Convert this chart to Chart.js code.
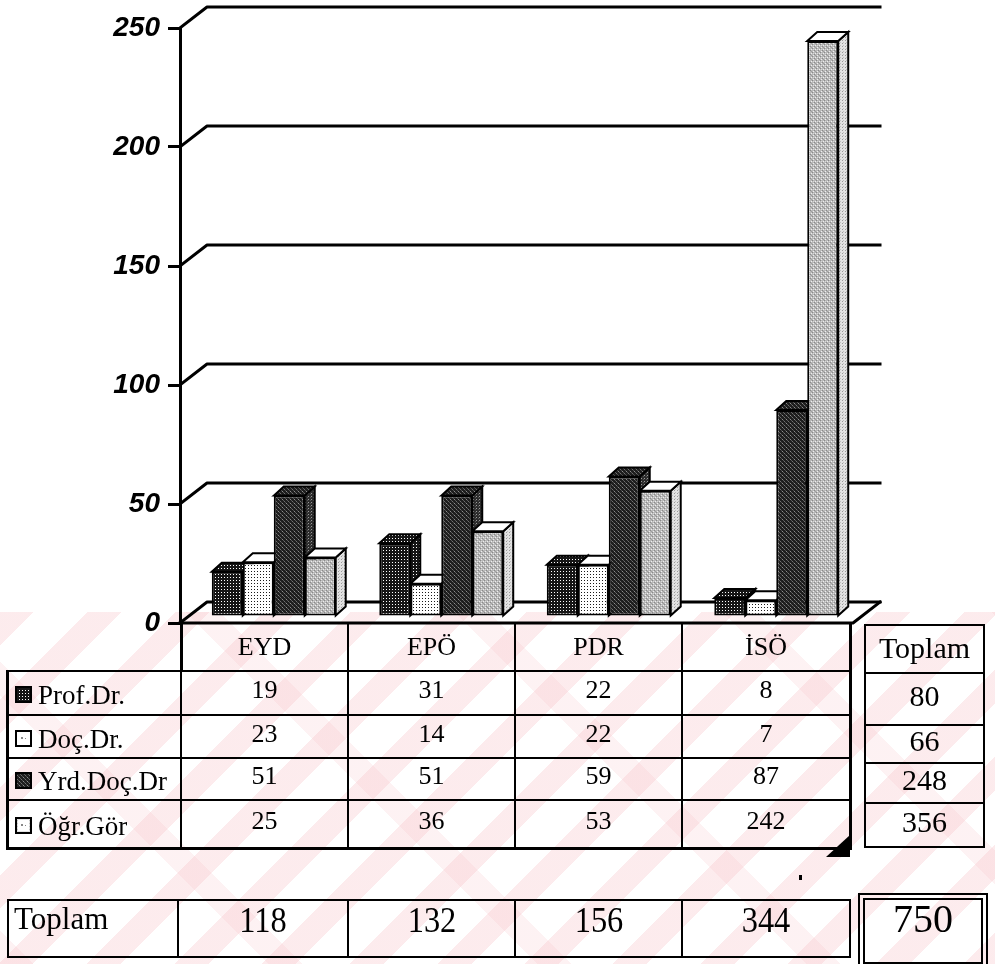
<!DOCTYPE html>
<html>
<head>
<meta charset="utf-8">
<script src="https://cdn.jsdelivr.net/npm/chart.js@4.4.1/dist/chart.umd.min.js"></script>
<style>
  html, body { margin: 0; padding: 0; background: #fff; }
  #page { position: relative; width: 995px; height: 964px; overflow: hidden; background: #fff;
          font-family: "Liberation Serif", "Times New Roman", serif; color: #000; }
  #wm { position: absolute; left: 0; top: 612px; width: 995px; height: 352px;
        background:
          repeating-linear-gradient(135deg, rgba(247,190,196,0.30) 0 24px, rgba(255,255,255,0) 24px 62px),
          repeating-linear-gradient(45deg, rgba(247,190,196,0.20) 0 24px, rgba(255,255,255,0) 24px 190px); }
  #chart { position: absolute; left: 0; top: 0; }
  .ln { position: absolute; background: #000; }
  .tx { position: absolute; white-space: nowrap; line-height: 1; }
</style>
</head>
<body>
<div id="page">
  <div id="wm"></div>
  <canvas id="chart" width="995" height="964"></canvas>
</div>
<script>
// Faculty counts per department
const categories = ['EYD', 'EPÖ', 'PDR', 'İSÖ'];
const seriesNames = ['Prof.Dr.', 'Doç.Dr.', 'Yrd.Doç.Dr', 'Öğr.Gör'];
const profDr   = [19, 31, 22, 8];
const docDr    = [23, 14, 22, 7];
const yrdDocDr = [51, 51, 59, 87];
const ogrGor   = [25, 36, 53, 242];
const rowTotals = [80, 66, 248, 356];
const colTotals = [118, 132, 156, 344];
const grandTotal = 750;
const totalLabel = 'Toplam';
const yTicks = [0, 50, 100, 150, 200, 250];

const seriesValues = [profDr, docDr, yrdDocDr, ogrGor];

const canvas = document.getElementById('chart');
const ctx = canvas.getContext('2d');

// small halftone tiles used as fills
function makeTile(w, h, bg, px) {
  const c = document.createElement('canvas');
  c.width = w; c.height = h;
  const g = c.getContext('2d');
  g.fillStyle = bg; g.fillRect(0, 0, w, h);
  px.forEach(([x, y, col]) => { g.fillStyle = col; g.fillRect(x, y, 1, 1); });
  return c;
}
const tiles = {
  prof: makeTile(3, 3, '#161616', [[1, 1, '#ffffff']]),
  doc: makeTile(3, 3, '#ffffff', [[1, 1, '#1a1a1a']]),
  yrd: makeTile(4, 4, '#1e1e1e', [[0, 1, '#8c8c8c'], [2, 3, '#707070'], [3, 0, '#4e4e4e'], [1, 2, '#5a5a5a']]),
  ogr: makeTile(4, 4, '#b8b8b8', [[0, 0, '#8a8a8a'], [2, 2, '#8a8a8a'], [1, 3, '#eeeeee'], [3, 1, '#eeeeee'], [1, 1, '#a0a0a0'], [3, 3, '#d8d8d8']]),
  docSide: makeTile(3, 3, '#f4f4f4', [[1, 1, '#888888']]),
  yrdSide: makeTile(3, 3, '#2c2c2c', [[1, 1, '#9a9a9a'], [0, 2, '#555555']]),
  ogrSide: makeTile(3, 3, '#e2e2e2', [[1, 1, '#999999'], [2, 0, '#c0c0c0']])
};
const pat = t => ctx.createPattern(t, 'repeat');
const faces = [
  { front: pat(tiles.prof), top: pat(tiles.prof), side: pat(tiles.prof) },
  { front: pat(tiles.doc),  top: '#ffffff',       side: pat(tiles.docSide) },
  { front: pat(tiles.yrd),  top: pat(tiles.yrd),  side: pat(tiles.yrdSide) },
  { front: pat(tiles.ogr),  top: '#ffffff',       side: pat(tiles.ogrSide) }
];

// perspective offsets
const wallOff = { dx: 27, dy: 21 };   // back wall relative to the front axis plane
const barShift = { dx: 10, dy: -6 };  // bar front faces sit a little inside the floor
const barDepth = { dx: 10, dy: 9 };   // extrusion of each bar
const wallRight = 880;

const solid3d = {
  id: 'solid3d',
  beforeDatasetsDraw(chart) {
    const c = chart.ctx, ys = chart.scales.y, a = chart.chartArea;
    c.save();
    c.strokeStyle = '#000'; c.lineWidth = 3; c.lineJoin = 'round'; c.lineCap = 'square';
    ys.ticks.forEach(t => {
      const y = ys.getPixelForValue(t.value);
      c.beginPath();
      c.moveTo(a.left, y);
      c.lineTo(a.left + wallOff.dx, y - wallOff.dy);
      c.lineTo(wallRight, y - wallOff.dy);
      c.stroke();
    });
    const y0 = ys.getPixelForValue(0);
    c.beginPath();
    c.moveTo(a.left, y0);
    c.lineTo(a.right + 3, y0);
    c.lineTo(wallRight, y0 - wallOff.dy);
    c.stroke();
    c.restore();

    // the bar solids: tops and sides first, left to right; fronts come from the library afterwards
    c.save();
    c.translate(barShift.dx, barShift.dy);
    c.lineWidth = 2; c.strokeStyle = '#000'; c.lineJoin = 'miter';
    const metas = seriesNames.map((_, i) => chart.getDatasetMeta(i));
    for (let j = 0; j < categories.length; j++) {
      metas.forEach((meta, i) => {
        const el = meta.data[j];
        if (!el) return;
        const p = el.getProps(['x', 'y', 'base', 'width'], true);
        const L = p.x - p.width / 2, R = p.x + p.width / 2;
        const T = Math.min(p.y, p.base), B = Math.max(p.y, p.base);
        const dx = barDepth.dx, dy = barDepth.dy;
        c.beginPath();
        c.moveTo(R, T); c.lineTo(R + dx, T - dy); c.lineTo(R + dx, B - dy); c.lineTo(R, B); c.closePath();
        c.fillStyle = faces[i].side; c.fill(); c.stroke();
        c.beginPath();
        c.moveTo(L, T); c.lineTo(L + dx, T - dy); c.lineTo(R + dx, T - dy); c.lineTo(R, T); c.closePath();
        c.fillStyle = faces[i].top; c.fill(); c.stroke();
      });
    }
  },
  afterDatasetsDraw(chart) {
    chart.ctx.restore();
  }
};

new Chart(ctx, {
  type: 'bar',
  data: {
    labels: categories,
    datasets: seriesNames.map((name, i) => ({
      label: name,
      data: seriesValues[i],
      backgroundColor: faces[i].front,
      borderColor: '#000',
      borderWidth: 2,
      borderSkipped: false,
      clip: false
    }))
  },
  options: {
    responsive: false,
    animation: false,
    devicePixelRatio: 1,
    layout: { padding: { left: 0, right: 145, top: 28, bottom: 341 } },
    datasets: { bar: { categoryPercentage: 0.74, barPercentage: 1 } },
    plugins: { legend: { display: false }, tooltip: { enabled: false } },
    scales: {
      x: { display: false, offset: true },
      y: {
        min: yTicks[0],
        max: yTicks[yTicks.length - 1],
        afterFit(s) { s.width = 180; },
        afterBuildTicks(s) { s.ticks = yTicks.map(v => ({ value: v })); },
        ticks: { color: '#000', padding: 8,
                 font: { family: 'Liberation Sans', size: 28, style: 'italic', weight: 'bold' } },
        grid: { drawOnChartArea: false, drawTicks: true, tickLength: 12, color: '#000', lineWidth: 3 },
        border: { display: true, color: '#000', width: 3 }
      }
    }
  },
  plugins: [solid3d]
});

// ---- data table under the chart ----
const page = document.getElementById('page');
function box(x, y, w, h, css) {
  const d = document.createElement('div');
  d.className = 'ln';
  d.style.left = x + 'px'; d.style.top = y + 'px';
  d.style.width = w + 'px'; d.style.height = h + 'px';
  if (css) Object.assign(d.style, css);
  page.appendChild(d);
  return d;
}
function hline(x1, x2, y, w) { box(x1, y - w / 2, x2 - x1, w); }
function vline(x, y1, y2, w) { box(x - w / 2, y1, w, y2 - y1); }
function text(str, x, y, size, align, extra) {
  const d = document.createElement('div');
  d.className = 'tx';
  d.textContent = str;
  d.style.fontSize = size + 'px';
  d.style.left = x + 'px'; d.style.top = y + 'px';
  const tx = align === 'left' ? 'translate(0,-50%)' : 'translate(-50%,-50%)';
  d.style.transform = tx + (extra || '');
  page.appendChild(d);
}

const colEdges = [181, 348, 515, 682, 850];
const headTop = 623, headBottom = 671;
const rowEdges = [671, 715, 758, 800, 848];
const labelLeft = 7;

// header row
vline(181, headTop, headBottom, 3);
for (let k = 1; k < colEdges.length - 1; k++) vline(colEdges[k], headTop, rowEdges[rowEdges.length - 1], 2);
vline(850, headTop - 1, rowEdges[rowEdges.length - 1] + 1, 3);
categories.forEach((c, j) => text(c, (colEdges[j] + colEdges[j + 1]) / 2, (headTop + headBottom) / 2, 26));

// body rows
hline(labelLeft - 1, 851, headBottom, 2);
for (let r = 1; r < rowEdges.length - 1; r++) hline(labelLeft, 850, rowEdges[r], 2);
hline(labelLeft - 1, 851.5, rowEdges[rowEdges.length - 1], 3);
vline(labelLeft, headBottom - 1, rowEdges[rowEdges.length - 1] + 1, 3);
vline(181, headBottom, rowEdges[rowEdges.length - 1], 2);

// legend swatches
function swatch(i, x, y) {
  const c = document.createElement('canvas');
  c.width = 17; c.height = 17;
  c.style.position = 'absolute'; c.style.left = x + 'px'; c.style.top = y + 'px';
  const g = c.getContext('2d');
  g.fillStyle = '#000'; g.fillRect(0, 0, 17, 17);
  const inner = [tiles.prof, tiles.doc, tiles.yrd, tiles.ogrSide][i];
  g.fillStyle = g.createPattern(inner, 'repeat');
  g.fillRect(2, 2, 13, 13);
  if (i === 1 || i === 3) {
    g.fillStyle = '#fff'; g.fillRect(3, 3, 11, 11);
    g.fillStyle = '#888'; g.fillRect(6, 7, 2, 2); g.fillRect(10, 8, 1, 1);
  }
  page.appendChild(c);
}
seriesNames.forEach((name, i) => {
  const cy = (rowEdges[i] + rowEdges[i + 1]) / 2;
  swatch(i, 15, Math.round(cy - 7));
  text(name, 38, cy + 2, 27, 'left');
  seriesValues[i].forEach((v, j) => text(String(v), (colEdges[j] + colEdges[j + 1]) / 2, cy - 3, 26));
});

// row totals box
const totX1 = 865, totX2 = 984;
const totEdges = [625, 673, 725, 763, 803, 847];
vline(totX1, totEdges[0] - 1, totEdges[5] + 1, 2);
vline(totX2, totEdges[0] - 1, totEdges[5] + 1, 2);
totEdges.forEach(y => hline(totX1, totX2, y, 2));
text(totalLabel, (totX1 + totX2) / 2, 648, 30);
rowTotals.forEach((v, i) => text(String(v), (totX1 + totX2) / 2, (totEdges[i + 1] + totEdges[i + 2]) / 2 - 3, 30));

// column totals row
const botEdges = [8, 178, 348, 515, 682, 850];
const botTop = 900, botBottom = 957;
hline(8, 850, botTop, 2);
hline(8, 850, botBottom, 2);
botEdges.forEach(x => vline(x, botTop - 1, botBottom + 1, 2));
text(totalLabel, 14, 918, 31, 'left');
colTotals.forEach((v, j) => text(String(v), (botEdges[j + 1] + botEdges[j + 2]) / 2, 920, 36, 'center', ' scaleX(0.9)'));

// grand total, double frame
const g = document.createElement('div');
Object.assign(g.style, { position: 'absolute', left: '858px', top: '893px', width: '116px', height: '62px',
  border: '7px double #000', background: 'transparent' });
page.appendChild(g);
text(String(grandTotal), 923, 919, 40);

// corner marks on the table
box(826, 835, 0, 0, { background: 'transparent', borderLeft: '24px solid transparent', borderBottom: '22px solid #000' });
box(799, 875, 3, 5);
</script>
</body>
</html>
